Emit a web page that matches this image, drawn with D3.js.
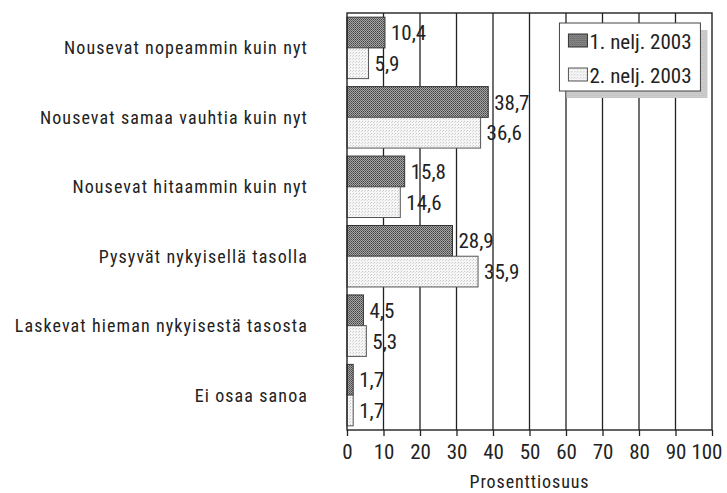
<!DOCTYPE html>
<html>
<head>
<meta charset="utf-8">
<script src="https://cdn.jsdelivr.net/npm/d3@7"></script>
<style>
  body { margin: 0; background: #fff; }
  svg text { font-family: "Roboto Condensed", "Liberation Sans Narrow", sans-serif; fill: #222; }
</style>
</head>
<body>
<svg id="chart" width="727" height="493"></svg>
<script>
// data
let categories = [
    'Nousevat nopeammin kuin nyt',
    'Nousevat samaa vauhtia kuin nyt',
    'Nousevat hitaammin kuin nyt',
    'Pysyvät nykyisellä tasolla',
    'Laskevat hieman nykyisestä tasosta',
    'Ei osaa sanoa'
];
let seriesNames = ['1. nelj. 2003', '2. nelj. 2003'];
let q1Values = [10.4, 38.7, 15.8, 28.9, 4.5, 1.7];
let q2Values = [5.9, 36.6, 14.6, 35.9, 5.3, 1.7];
let xTicks = [0, 10, 20, 30, 40, 50, 60, 70, 80, 90, 100];
let axisTitle = 'Prosenttiosuus';

let svg = d3.select('#chart');
let margins = { 'top': 13, 'bottom': 62, 'left': 347, 'right': 15 };
let width = 727 - margins.left - margins.right;
let height = 493 - margins.top - margins.bottom - 1;

let x = d3.scaleLinear().domain([0, 100]).range([0, width]);
let y = d3.scaleBand().domain(categories).range([0, height]).paddingInner(0.115).paddingOuter(0.06);
let ySub = d3.scaleBand().domain([0, 1]).range([0, y.bandwidth()]);
let fmt = v => d3.format('.1f')(v).replace('.', ',');

// fill patterns
let defs = svg.append('defs');
let darkPat = defs.append('pattern')
    .attr('id', 'pat-dark').attr('width', 2).attr('height', 2)
    .attr('patternUnits', 'userSpaceOnUse');
darkPat.append('rect').attr('width', 2).attr('height', 2).attr('fill', '#a8a8a8');
darkPat.append('rect').attr('width', 1).attr('height', 1).attr('fill', '#404040');
darkPat.append('rect').attr('x', 1).attr('y', 1).attr('width', 1).attr('height', 1).attr('fill', '#606060');

let lightPat = defs.append('pattern')
    .attr('id', 'pat-light').attr('width', 3).attr('height', 3)
    .attr('patternUnits', 'userSpaceOnUse');
lightPat.append('rect').attr('width', 3).attr('height', 3).attr('fill', '#f6f6f6');
lightPat.append('rect').attr('width', 1).attr('height', 1).attr('fill', '#c8c8c8');
lightPat.append('rect').attr('x', 2).attr('y', 1).attr('width', 1).attr('height', 1).attr('fill', '#d8d8d8');

let shadowPat = defs.append('pattern')
    .attr('id', 'pat-shadow').attr('width', 2).attr('height', 2)
    .attr('patternUnits', 'userSpaceOnUse');
shadowPat.append('rect').attr('width', 2).attr('height', 2).attr('fill', '#e2e2e2');
shadowPat.append('rect').attr('width', 1).attr('height', 1).attr('fill', '#a8a8a8');
shadowPat.append('rect').attr('x', 1).attr('y', 1).attr('width', 1).attr('height', 1).attr('fill', '#b8b8b8');

let g = svg.append('g').attr('transform', `translate(${margins.left},${margins.top})`);

// gridlines
g.selectAll('.grid')
    .data(xTicks.slice(1, -1))
    .enter().append('line')
    .attr('x1', d => x(d)).attr('x2', d => x(d))
    .attr('y1', 0).attr('y2', height)
    .attr('stroke', '#222').attr('stroke-width', 1.3);

// bars
let series = [
    { name: seriesNames[0], values: q1Values, fill: 'url(#pat-dark)', stroke: '#333' },
    { name: seriesNames[1], values: q2Values, fill: 'url(#pat-light)', stroke: '#555' }
];

series.forEach((s, si) => {
    g.selectAll(`.bar-${si}`)
        .data(s.values)
        .enter().append('rect')
        .attr('x', 0)
        .attr('y', (d, i) => y(categories[i]) + ySub(si))
        .attr('width', d => x(d))
        .attr('height', ySub.bandwidth())
        .attr('fill', s.fill)
        .attr('stroke', s.stroke)
        .attr('stroke-width', 1);

    g.selectAll(`.val-${si}`)
        .data(s.values)
        .enter().append('text')
        .attr('x', d => x(d) + 6)
        .attr('y', (d, i) => y(categories[i]) + ySub(si) + ySub.bandwidth() / 2)
        .attr('dy', '0.36em')
        .attr('font-size', 21)
        .text(d => fmt(d));
});

// frame
g.append('rect')
    .attr('x', 0).attr('y', 0).attr('width', width).attr('height', height)
    .attr('fill', 'none').attr('stroke', '#222').attr('stroke-width', 1.4);

// category labels
g.selectAll('.cat')
    .data(categories)
    .enter().append('text')
    .attr('x', -39)
    .attr('y', d => y(d) + y.bandwidth() / 2)
    .attr('dy', '0.36em')
    .attr('text-anchor', 'end')
    .attr('font-size', 18)
    .attr('letter-spacing', 1.1)
    .text(d => d);

// x axis
let xAxis = g.append('g')
    .attr('transform', `translate(0,${height})`)
    .call(d3.axisBottom(x).tickValues(xTicks).tickSize(6).tickPadding(8).tickFormat(d3.format('d')));
xAxis.select('.domain').remove();
xAxis.selectAll('line').attr('stroke', '#222').attr('stroke-width', 1.3);
xAxis.selectAll('text').attr('font-size', 21).style('font-family', null);
// keep the last label inside the picture, as in the original
xAxis.selectAll('text').filter(d => d === 100).attr('text-anchor', 'end').attr('x', 10);

svg.append('text')
    .attr('x', margins.left + width / 2)
    .attr('y', 488)
    .attr('text-anchor', 'middle')
    .attr('font-size', 18)
    .attr('letter-spacing', 0.9)
    .text(axisTitle);

// legend
let lg = g.append('g').attr('transform', `translate(${x(58.2)},10)`);
let lw = 141, lh = 68;
lg.append('rect').attr('x', 7).attr('y', 7).attr('width', lw).attr('height', lh).attr('fill', 'url(#pat-shadow)');
lg.append('rect').attr('width', lw).attr('height', lh).attr('fill', '#fff').attr('stroke', '#444').attr('stroke-width', 1);
let items = lg.selectAll('.item').data(series).enter().append('g')
    .attr('transform', (d, i) => `translate(9,${11 + i * 34})`);
items.append('rect').attr('width', 19).attr('height', 13)
    .attr('fill', d => d.fill).attr('stroke', d => d.stroke);
items.append('text').attr('x', 21).attr('y', 7).attr('dy', '0.36em').attr('font-size', 21).text(d => d.name);
</script>
</body>
</html>
